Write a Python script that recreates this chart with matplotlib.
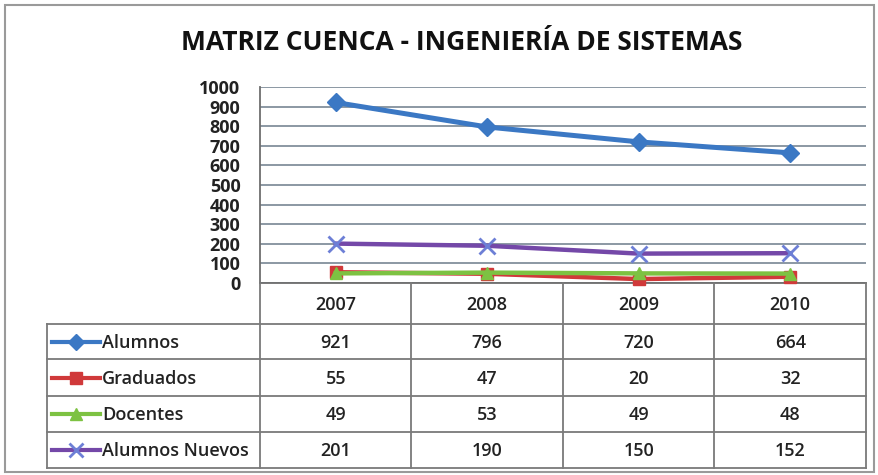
import matplotlib
matplotlib.use("Agg")
import matplotlib.pyplot as plt
from matplotlib.lines import Line2D
from matplotlib.patches import Rectangle

plt.rcParams['font.family'] = ['Open Sans', 'DejaVu Sans']

years = ["2007", "2008", "2009", "2010"]
series_names = ["Alumnos", "Graduados", "Docentes", "Alumnos Nuevos"]
alumnos = [921, 796, 720, 664]
graduados = [55, 47, 20, 32]
docentes = [49, 53, 49, 48]
alumnos_nuevos = [201, 190, 150, 152]
yticks = [0, 100, 200, 300, 400, 500, 600, 700, 800, 900, 1000]

series = [alumnos, graduados, docentes, alumnos_nuevos]
colors = ["#3b78c4", "#d0393a", "#7dc242", "#7448a8"]
markers = ["D", "s", "^", "x"]
medge = ["#3b78c4", "#d0393a", "#7dc242", "#6d7fd6"]
msizes = [9, 9, 9, 11]

W, H = 879, 475
fig = plt.figure(figsize=(W / 100, H / 100), dpi=100)
fig.patch.set_facecolor("white")

# outer border
fig.add_artist(Rectangle((5 / W, 1 - 472 / H), 869 / W, 467 / H, transform=fig.transFigure,
                         fill=False, edgecolor="#9a9a9a", linewidth=1.5))

L, R, T, B = 260, 866, 87, 283
ax = fig.add_axes([L / W, 1 - B / H, (R - L) / W, (B - T) / H])
x = list(range(len(years)))
ax.set_xlim(-0.5, len(years) - 0.5)
ax.set_ylim(0, 1000)
ax.set_yticks(yticks)
ax.set_yticklabels([str(v) for v in yticks], fontsize=13, fontweight="bold", color="#222222")
ax.tick_params(axis="y", length=0, pad=14)
ax.set_xticks([])
for v in yticks:
    ax.axhline(v, color="#8b98a3", linewidth=1.4, zorder=1)
for s in ["top", "right"]:
    ax.spines[s].set_visible(False)
ax.spines["left"].set_color("#6e6e6e")
ax.spines["left"].set_linewidth(1.3)
ax.spines["bottom"].set_color("#6e6e6e")
ax.spines["bottom"].set_linewidth(1.3)

z = [5, 3, 4, 5]
lws = [3.6, 3.2, 3.2, 3.2]
for vals, c, m, me, ms, zz, lw_ in zip(series, colors, markers, medge, msizes, z, lws):
    ax.plot(x, vals, color=c, linewidth=lw_, marker=m, markersize=ms,
            markerfacecolor=c, markeredgecolor=me, markeredgewidth=2 if m == "x" else 1,
            zorder=zz, clip_on=False)

fig.text(462 / W, 1 - 42 / H, "MATRIZ CUENCA - INGENIERÍA DE SISTEMAS", ha="center", va="center",
         fontsize=19, fontweight="bold", color="#111111")

# data table in pixel coordinates
tab = fig.add_axes([0, 0, 1, 1])
tab.set_xlim(0, W)
tab.set_ylim(H, 0)
tab.axis("off")
tab.patch.set_alpha(0)

col_edges = [L + (R - L) * i / len(years) for i in range(len(years) + 1)]
row_edges = [283, 324, 359, 396, 432, 468]
lc = "#7a7a7a"
lw = 1.3
for xe in col_edges:
    tab.plot([xe, xe], [row_edges[0], row_edges[-1]], color=lc, linewidth=lw)
tab.plot([47, 47], [row_edges[1], row_edges[-1]], color=lc, linewidth=lw)
for ye in row_edges[1:]:
    tab.plot([47, R], [ye, ye], color=lc, linewidth=lw)

tfs = 13
tw = 600
for i, yr in enumerate(years):
    cx = (col_edges[i] + col_edges[i + 1]) / 2
    tab.text(cx, (row_edges[0] + row_edges[1]) / 2 + 1, yr, ha="center", va="center",
             fontsize=tfs, fontweight=tw, color="#222222")
for r, (name, vals) in enumerate(zip(series_names, series)):
    cy = (row_edges[r + 1] + row_edges[r + 2]) / 2
    tab.add_line(Line2D([52, 100], [cy, cy], color=colors[r], linewidth=3))
    tab.add_line(Line2D([76], [cy], marker=markers[r], markersize=msizes[r] - 1,
                        color=colors[r], markeredgecolor=medge[r],
                        markeredgewidth=2 if markers[r] == "x" else 1))
    tab.text(102, cy + 1, name, ha="left", va="center", fontsize=tfs, fontweight=tw, color="#222222")
    for i, v in enumerate(vals):
        cx = (col_edges[i] + col_edges[i + 1]) / 2
        tab.text(cx, cy + 1, str(v), ha="center", va="center", fontsize=tfs, fontweight=tw,
                 color="#222222")

fig.savefig("out.png", dpi=100)
